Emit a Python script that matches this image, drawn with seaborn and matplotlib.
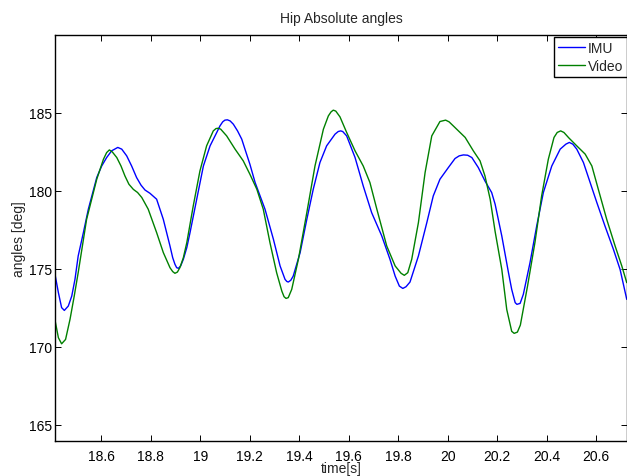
import numpy as np
import pandas as pd
import matplotlib
matplotlib.use("Agg")
import matplotlib.pyplot as plt
import seaborn as sns

# IMU hip angle trace
imu_time = [18.414, 18.427, 18.440, 18.451, 18.467, 18.481, 18.494, 18.507, 18.528,
            18.548, 18.582, 18.602, 18.622, 18.642, 18.667, 18.683, 18.703, 18.723,
            18.743, 18.761, 18.777, 18.797, 18.824, 18.851, 18.878, 18.889, 18.898,
            18.905, 18.912, 18.921, 18.932, 18.946, 18.959, 18.986, 19.013, 19.040,
            19.067, 19.080, 19.091, 19.100, 19.110, 19.121, 19.134, 19.151, 19.168,
            19.181, 19.201, 19.222, 19.262, 19.296, 19.323, 19.343, 19.350, 19.356,
            19.366, 19.376, 19.404, 19.431, 19.457, 19.484, 19.511, 19.545, 19.558,
            19.568, 19.576, 19.592, 19.626, 19.659, 19.693, 19.734, 19.767, 19.788,
            19.805, 19.819, 19.832, 19.848, 19.882, 19.916, 19.942, 19.969, 20.003,
            20.030, 20.047, 20.064, 20.081, 20.098, 20.124, 20.151, 20.178, 20.192,
            20.219, 20.246, 20.259, 20.273, 20.280, 20.293, 20.306, 20.333, 20.360,
            20.387, 20.421, 20.455, 20.478, 20.492, 20.506, 20.522, 20.549, 20.576,
            20.603, 20.636, 20.670, 20.697, 20.724]
imu_angle = [174.59, 173.48, 172.52, 172.34, 172.62, 173.26, 174.33, 175.83, 177.33,
             178.83, 180.86, 181.60, 182.14, 182.57, 182.79, 182.68, 182.25, 181.60,
             180.86, 180.37, 180.06, 179.85, 179.47, 178.18, 176.47, 175.72, 175.30,
             175.08, 175.04, 175.19, 175.62, 176.37, 177.33, 179.47, 181.60, 182.89,
             183.75, 184.17, 184.43, 184.54, 184.56, 184.49, 184.28, 183.85, 183.32,
             182.68, 181.71, 180.54, 178.83, 176.90, 175.19, 174.33, 174.20, 174.16,
             174.27, 174.54, 176.05, 178.18, 180.11, 181.82, 182.89, 183.64, 183.81,
             183.85, 183.81, 183.53, 182.14, 180.32, 178.61, 177.11, 175.62, 174.54,
             173.90, 173.75, 173.86, 174.16, 175.83, 177.97, 179.68, 180.75, 181.50,
             182.08, 182.25, 182.31, 182.29, 182.14, 181.50, 180.64, 179.90, 179.15,
             177.11, 174.76, 173.69, 172.84, 172.73, 172.79, 173.37, 175.40, 177.75,
             179.90, 181.60, 182.68, 183.00, 183.11, 183.00, 182.68, 181.82, 180.54,
             179.26, 177.75, 176.26, 174.97, 173.05]

# Video hip angle trace
video_time = [18.414, 18.427, 18.440, 18.456, 18.474, 18.491, 18.507, 18.524, 18.541,
              18.582, 18.609, 18.622, 18.633, 18.645, 18.663, 18.680, 18.696, 18.712,
              18.730, 18.747, 18.764, 18.790, 18.824, 18.851, 18.878, 18.889, 18.898,
              18.908, 18.918, 18.932, 18.946, 18.972, 18.999, 19.026, 19.053, 19.064,
              19.073, 19.083, 19.107, 19.141, 19.174, 19.201, 19.229, 19.255, 19.282,
              19.309, 19.330, 19.339, 19.347, 19.356, 19.370, 19.397, 19.431, 19.464,
              19.498, 19.518, 19.529, 19.538, 19.548, 19.565, 19.592, 19.626, 19.659,
              19.686, 19.714, 19.754, 19.788, 19.812, 19.825, 19.839, 19.855, 19.882,
              19.909, 19.936, 19.969, 19.979, 19.992, 20.006, 20.023, 20.071, 20.104,
              20.131, 20.151, 20.172, 20.192, 20.219, 20.239, 20.259, 20.269, 20.282,
              20.294, 20.323, 20.353, 20.380, 20.407, 20.430, 20.443, 20.457, 20.470,
              20.490, 20.522, 20.556, 20.583, 20.609, 20.643, 20.677, 20.704, 20.724]
video_angle = [171.66, 170.59, 170.20, 170.48, 171.77, 173.26, 174.76, 176.47, 178.18,
               180.75, 182.03, 182.46, 182.63, 182.50, 182.14, 181.60, 180.96, 180.43,
               180.10, 179.90, 179.58, 178.83, 177.33, 176.05, 175.08, 174.83, 174.72,
               174.80, 175.08, 175.72, 176.69, 179.04, 181.28, 182.89, 183.85, 184.00,
               184.02, 183.96, 183.53, 182.68, 181.93, 181.07, 180.11, 178.83, 176.69,
               174.76, 173.58, 173.22, 173.11, 173.16, 173.69, 175.62, 178.61, 181.60,
               183.96, 184.81, 185.07, 185.18, 185.12, 184.75, 183.75, 182.57, 181.60,
               180.54, 178.83, 176.47, 175.19, 174.72, 174.59, 174.76, 175.62, 177.97,
               181.18, 183.53, 184.45, 184.49, 184.54, 184.43, 184.17, 183.43, 182.57,
               181.93, 180.96, 179.47, 177.40, 174.97, 172.40, 171.00, 170.87, 170.95,
               171.40, 173.90, 176.70, 179.68, 182.03, 183.43, 183.75, 183.85, 183.75,
               183.40, 182.89, 182.36, 181.60, 180.11, 178.18, 176.47, 175.19, 174.12]

series_names = ["IMU", "Video"]
x_ticks = [18.6, 18.8, 19.0, 19.2, 19.4, 19.6, 19.8, 20.0, 20.2, 20.4, 20.6]
x_tick_labels = ["18.6", "18.8", "19", "19.2", "19.4", "19.6", "19.8", "20", "20.2", "20.4", "20.6"]
y_ticks = [165, 170, 175, 180, 185]

df = pd.concat([
    pd.DataFrame({"time": imu_time, "angle": imu_angle, "source": series_names[0]}),
    pd.DataFrame({"time": video_time, "angle": video_angle, "source": series_names[1]}),
], ignore_index=True)

sns.set_style("ticks")
plt.rcParams["font.family"] = ["Liberation Sans", "DejaVu Sans"]
plt.rcParams["xtick.direction"] = "in"
plt.rcParams["ytick.direction"] = "in"

fig = plt.figure(figsize=(6.27, 4.77), dpi=100)
ax = fig.add_axes([0.088, 0.0744, 0.912, 0.8502])

sns.lineplot(data=df, x="time", y="angle", hue="source",
             palette={"IMU": "#0000ff", "Video": "#008000"},
             linewidth=1.0, ax=ax, estimator=None)

ax.set_xlim(18.414, 20.725)
ax.set_ylim(164, 190)
ax.set_xticks(x_ticks)
ax.set_xticklabels(x_tick_labels)
ax.set_yticks(y_ticks)
ax.tick_params(axis="both", which="both", direction="in", length=4, width=0.7,
               top=True, right=True, labelsize=10, colors="black")
ax.tick_params(axis="x", pad=6)
ax.tick_params(axis="y", pad=2)
for s in ax.spines.values():
    s.set_linewidth(1.0)
    s.set_color("black")

ax.set_title("Hip Absolute angles", fontsize=10, pad=9)
ax.set_xlabel("time[s]", fontsize=10, labelpad=-1)
ax.set_ylabel("angles [deg]", fontsize=10, labelpad=2)

leg = ax.legend(loc="upper right", bbox_to_anchor=(1.0, 0.995), borderaxespad=0,
                fontsize=10, frameon=True, fancybox=False, handlelength=1.9,
                handletextpad=0.2, borderpad=0.3, labelspacing=0.3)
leg.get_frame().set_edgecolor("black")
leg.get_frame().set_linewidth(1.0)
leg.get_frame().set_alpha(1)

fig.savefig("out.png", dpi=100)
